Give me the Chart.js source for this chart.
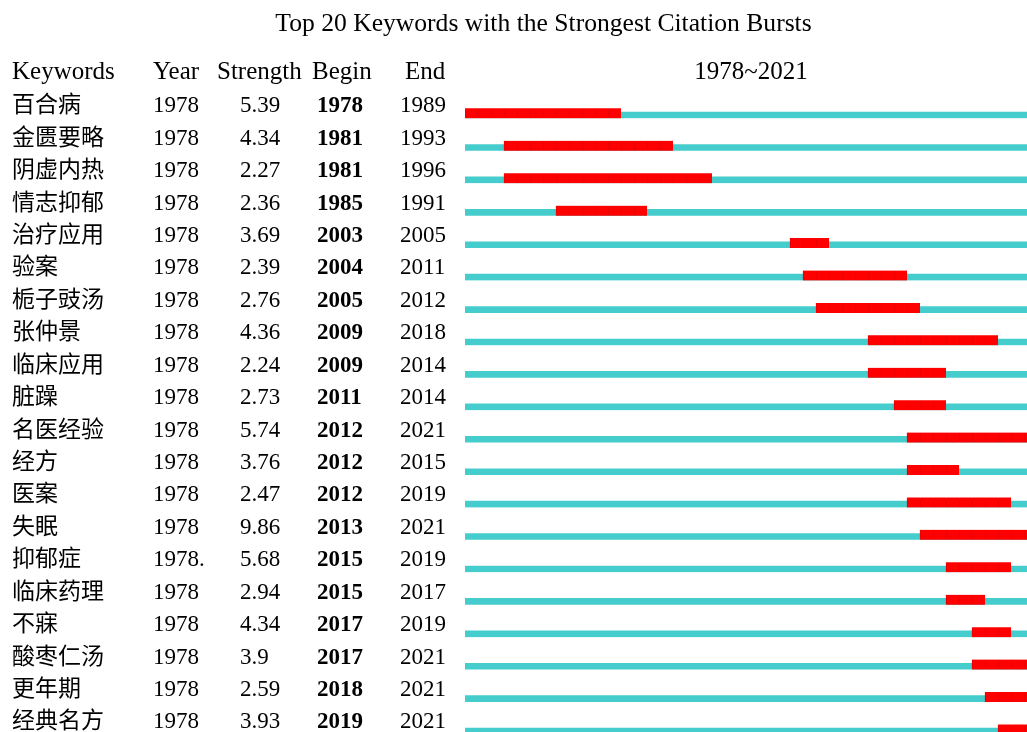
<!DOCTYPE html>
<html>
<head>
<meta charset="utf-8">
<script src="https://cdn.jsdelivr.net/npm/chart.js@4"></script>
<style>
  body { margin: 0; background: #fff; }
  #wrap { width: 1027px; height: 732px; }
</style>
</head>
<body>
<div id="wrap"><canvas id="burst-chart" width="1027" height="732"></canvas></div>
<script>
// data
const keywords = ['百合病', '金匮要略', '阴虚内热', '情志抑郁', '治疗应用', '验案', '栀子豉汤', '张仲景', '临床应用', '脏躁',
  '名医经验', '经方', '医案', '失眠', '抑郁症', '临床药理', '不寐', '酸枣仁汤', '更年期', '经典名方'];
const years = ['1978', '1978', '1978', '1978', '1978', '1978', '1978', '1978', '1978', '1978',
  '1978', '1978', '1978', '1978', '1978.', '1978', '1978', '1978', '1978', '1978'];
const strength = [5.39, 4.34, 2.27, 2.36, 3.69, 2.39, 2.76, 4.36, 2.24, 2.73,
  5.74, 3.76, 2.47, 9.86, 5.68, 2.94, 4.34, 3.9, 2.59, 3.93];
const begin = [1978, 1981, 1981, 1985, 2003, 2004, 2005, 2009, 2009, 2011,
  2012, 2012, 2012, 2013, 2015, 2015, 2017, 2017, 2018, 2019];
const end = [1989, 1993, 1996, 1991, 2005, 2011, 2012, 2018, 2014, 2014,
  2021, 2015, 2019, 2021, 2019, 2017, 2019, 2021, 2021, 2021];
const headers = ['Keywords', 'Year', 'Strength', 'Begin', 'End'];
const firstYear = 1978;
const lastYear = 2021;

const serif = "'Liberation Serif', 'Times New Roman', 'Noto Sans CJK SC'";

// one cyan line per keyword over the whole period
let timeline = keywords.map((k, i) => ({ x: [firstYear, lastYear + 1], y: i }));

// red burst, one slice per year
let bursts = [];
keywords.forEach((k, i) => {
  for (let yr = begin[i]; yr <= end[i]; yr++) {
    bursts.push({ x: [yr, yr + 1], y: i });
  }
});

// left table + timeline header, drawn on the row positions of the y scale
const tablePlugin = {
  id: 'burstTable',
  afterDraw(chart) {
    const ctx = chart.ctx;
    const yScale = chart.scales.y;
    const xScale = chart.scales.x;
    ctx.save();
    ctx.fillStyle = '#000';
    ctx.textBaseline = 'alphabetic';
    ctx.textAlign = 'left';

    let hy = yScale.getPixelForValue(-1) - 2;
    ctx.font = '25px ' + serif;
    let hx = [12, 153, 217, 312, 405];
    headers.forEach((h, j) => ctx.fillText(h, hx[j], hy));
    ctx.textAlign = 'center';
    ctx.fillText(firstYear + '~' + lastYear, xScale.getPixelForValue((firstYear + lastYear + 1) / 2), hy);

    ctx.textAlign = 'left';
    keywords.forEach((k, i) => {
      let y = yScale.getPixelForValue(i) - 1;
      ctx.font = '23px ' + serif;
      ctx.fillText(k, 12, y);
      ctx.fillText(years[i], 153, y);
      ctx.fillText(String(strength[i]), 240, y);
      ctx.fillText(String(end[i]), 400, y);
      ctx.font = 'bold 23px ' + serif;
      ctx.fillText(String(begin[i]), 317, y);
    });
    ctx.restore();
  }
};

new Chart(document.getElementById('burst-chart'), {
  type: 'bar',
  data: {
    datasets: [
      {
        label: 'Burst',
        data: bursts,
        backgroundColor: '#ff0000',
        borderColor: '#e80000',
        borderWidth: { left: 1, top: 0, right: 0, bottom: 0 },
        borderSkipped: false,
        barThickness: 10,
        grouped: false
      },
      {
        label: 'Period',
        data: timeline,
        backgroundColor: '#45cccc',
        borderColor: 'rgba(0,0,0,0)',
        borderWidth: { top: 3.7, left: 0, right: 0, bottom: 0 },  // thinner line, sitting on the bottom of the red bar
        borderSkipped: false,
        barThickness: 10,
        grouped: false
      }
    ]
  },
  options: {
    indexAxis: 'y',
    responsive: false,
    devicePixelRatio: 1,
    animation: false,
    layout: { padding: { left: 60, right: 0, top: 0, bottom: 0 } },
    scales: {
      x: {
        type: 'linear',
        display: false,
        offset: false,
        min: firstYear,
        max: 2021.23   // picture is cut just after the start of 2021
      },
      y: {
        type: 'linear',
        reverse: true,
        offset: false,
        min: -2.086,
        max: 19.08,
        grid: { display: false },
        border: { display: false },
        ticks: { display: false },
        afterFit(scale) { scale.width = 405; }
      }
    },
    plugins: {
      legend: { display: false },
      tooltip: { enabled: false },
      title: {
        display: true,
        text: 'Top 20 Keywords with the Strongest Citation Bursts',
        color: '#000',
        font: { family: serif, size: 25.6, weight: 'normal' },
        padding: { top: 9, bottom: 6 }
      }
    }
  },
  plugins: [tablePlugin]
});
</script>
</body>
</html>
